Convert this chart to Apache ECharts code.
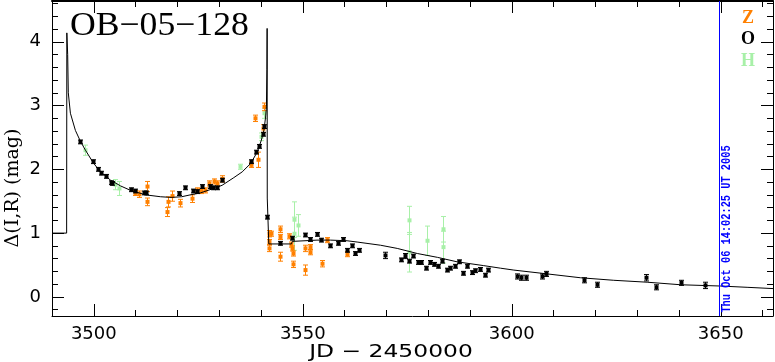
<!DOCTYPE html>
<html><head><meta charset="utf-8">
<script src="https://cdn.jsdelivr.net/npm/echarts@6/dist/echarts.min.js"></script>
<style>html,body{margin:0;padding:0;background:#fff}#c{width:775px;height:362px}</style>
</head><body><div id="c"></div>
<script>
// ---- tick values ----
const xMajorTicks = [3500, 3550, 3600, 3650];
const xMinorTicks = [3490,3500,3510,3520,3530,3540,3550,3560,3570,3580,3590,3600,3610,3620,3630,3640,3650,3660];
const yMajorTicks = [0, 1, 2, 3, 4];
const yMinorTicks = [-0.2,0,0.2,0.4,0.6,0.8,1,1.2,1.4,1.6,1.8,2,2.2,2.4,2.6,2.8,3,3.2,3.4,3.6,3.8,4,4.2,4.4,4.6];

// ---- model curve ----
const modelX = [3490,3493.5,3493.55,3493.75,3493.9,3494.4,3495.6,3496.8,3498.0,3499.9,3501.6,3504.0,3506.4,3508.8,3512.4,3516.0,3518.5,3521.0,3523.1,3525.5,3529.1,3530.7,3533.5,3535.5,3537.5,3539.1,3540.1,3540.7,3541.1,3541.3,3541.42,3541.47,3541.5,3541.85,3541.87,3547.3,3547.5,3553.4,3556.6,3560.6,3563.0,3568.6,3572.6,3577.4,3582.2,3586.9,3593.3,3597.3,3600.5,3608.5,3616.4,3624.4,3632.4,3640.4,3649.9,3656.3,3662.5];
const modelY = [1.0,1.0,4.14,3.8,3.2,2.88,2.61,2.44,2.30,2.10,1.96,1.83,1.74,1.67,1.60,1.57,1.56,1.57,1.60,1.63,1.71,1.75,1.87,1.96,2.09,2.27,2.46,2.61,2.82,2.98,3.56,4.21,1.55,1.55,0.83,0.83,0.87,0.89,0.89,0.88,0.86,0.81,0.76,0.68,0.62,0.55,0.49,0.45,0.42,0.36,0.30,0.26,0.23,0.19,0.17,0.15,0.13];

// ---- Z (orange) ----
const zX = [3509.8,3510.9,3512.8,3512.8,3517.7,3517.6,3518.8,3520.7,3523.5,3524.7,3525.7,3526.7,3527.5,3528.7,3529.5,3530.6,3537.7,3539.4,3538.5,3540.4,3540.7,
            3541.9,3541.9,3541.9,3542.5,3544.6,3544.6,3544.6,3546.7,3547.1,3547.5,3547.6,3547.6,3550.6,3550.6,3551.7,3551.7,3554.6,3555.7,3560.6];
const zY = [1.63,1.61,1.73,1.49,1.49,1.33,1.58,1.47,1.54,1.67,1.66,1.67,1.78,1.81,1.78,1.85,2.07,2.15,2.80,2.64,2.98,
            0.99,0.86,0.76,0.99,1.06,0.94,0.63,0.95,0.82,0.76,0.68,0.51,0.76,0.42,0.78,0.70,0.52,0.89,0.67];
const zErr = [0.04,0.05,0.08,0.06,0.08,0.07,0.08,0.06,0.06,0.04,0.04,0.04,0.04,0.04,0.04,0.05,0.04,0.12,0.05,0.06,0.06,
              0.05,0.04,0.05,0.04,0.05,0.04,0.07,0.04,0.04,0.04,0.04,0.05,0.05,0.08,0.04,0.04,0.05,0.04,0.04];

// ---- O (black) ----
const oX = [3496.8,3499.8,3501.0,3501.8,3503.0,3504.0,3504.4,3508.8,3509.8,3512.0,3512.6,3520.5,3521.8,3523.8,3524.7,3525.9,3527.8,3528.6,3529.5,3530.6,3537.7,3538.7,3539.6,3540.4,3540.7,
            3541.5,3544.6,3547.5,3550.6,3551.7,3553.4,3554.4,3556.5,3558.5,3559.6,3560.6,3561.7,3562.6,3563.4,
            3569.6,3573.4,3574.4,3575.4,3576.4,3577.5,3578.4,3579.4,3580.4,3581.3,3582.4,3583.4,3584.4,3585.3,3586.4,3587.4,3588.4,3589.3,3590.4,3591.3,3592.3,3593.5,3594.4,
            3601.3,3602.2,3603.3,3607.3,3608.2,3617.4,3620.4,3632.2,3634.4,3640.4,3646.3];
const oY = [2.43,2.12,2.00,1.94,1.89,1.79,1.78,1.68,1.66,1.63,1.63,1.62,1.71,1.66,1.65,1.73,1.73,1.71,1.71,1.83,2.12,2.27,2.36,2.55,2.67,
            1.25,0.84,0.92,0.97,0.90,0.98,0.89,0.80,0.84,0.90,0.73,0.80,0.68,0.73,
            0.65,0.58,0.64,0.56,0.64,0.54,0.54,0.45,0.54,0.51,0.48,0.56,0.42,0.45,0.48,0.55,0.37,0.48,0.38,0.41,0.43,0.34,0.42,
            0.32,0.30,0.30,0.32,0.36,0.26,0.19,0.30,0.15,0.22,0.18];
const oErr = [0.03,0.03,0.03,0.03,0.03,0.03,0.03,0.03,0.03,0.03,0.03,0.03,0.03,0.03,0.03,0.03,0.03,0.03,0.03,0.03,0.03,0.03,0.03,0.03,0.03,
              0.03,0.03,0.03,0.03,0.03,0.03,0.03,0.03,0.03,0.03,0.03,0.03,0.03,0.03,
              0.05,0.03,0.04,0.03,0.03,0.03,0.03,0.03,0.03,0.03,0.03,0.03,0.03,0.03,0.03,0.03,0.03,0.03,0.03,0.03,0.03,0.03,0.03,
              0.04,0.04,0.04,0.04,0.04,0.04,0.04,0.05,0.04,0.04,0.05];

// ---- H (light green) ----
const hX = [3498.0,3505.0,3506.0,3534.9,3539.9,3540.7,3547.8,3547.8,3548.8,3575.5,3575.5,3579.8,3583.6,3583.6];
const hY = [2.30,1.76,1.70,2.04,2.51,2.88,1.21,0.99,1.12,1.20,0.70,0.88,1.06,0.78];
const hErr = [0.08,0.08,0.11,0.04,0.06,0.08,0.28,0.26,0.17,0.22,0.31,0.23,0.20,0.25];

const zip3 = (a,b,c) => a.map((v,i)=>[v,b[i],c[i]]);

function errItem(params, api){
  const x=api.value(0), y=api.value(1), e=api.value(2);
  const c=api.coord([x,y]), t=api.coord([x,y+e]), b=api.coord([x,y-e]);
  const col=api.visual('color');
  const cx=Math.round(c[0])+0.5;
  return {type:'group', children:[
    {type:'line', shape:{x1:cx,y1:t[1],x2:cx,y2:b[1]}, style:{stroke:col,lineWidth:1}},
    {type:'line', shape:{x1:cx-2.5,y1:t[1],x2:cx+2.5,y2:t[1]}, style:{stroke:col,lineWidth:1}},
    {type:'line', shape:{x1:cx-2.5,y1:b[1],x2:cx+2.5,y2:b[1]}, style:{stroke:col,lineWidth:1}},
    {type:'rect', shape:{x:cx-2,y:c[1]-2,width:4,height:4}, style:{fill:col}}
  ]};
}

const XMIN=3490, XMAX=3662.5, YMIN=-0.3, YMAX=4.64;
const blk='#000';
const plain = v => String(v);
function xAx(pos, ticks, len, labels, lw){
  return {type:'value', min:XMIN, max:XMAX, position:pos,
    axisLine:{show:lw>0, onZero:false, lineStyle:{color:blk,width:lw}},
    axisTick:{inside:true, length:len, customValues:ticks, lineStyle:{color:blk,width:1}},
    axisLabel:labels?{customValues:ticks, formatter:plain, fontFamily:'DejaVu Sans', fontSize:18, color:blk, margin:9}:{show:false},
    splitLine:{show:false}};
}
function yAx(pos, ticks, len, labels, lw){
  return {type:'value', min:YMIN, max:YMAX, position:pos,
    axisLine:{show:lw>0, onZero:false, lineStyle:{color:blk,width:lw}},
    axisTick:{inside:true, length:len, customValues:ticks, lineStyle:{color:blk,width:1}},
    axisLabel:labels?{customValues:ticks, formatter:plain, fontFamily:'DejaVu Sans', fontSize:18, color:blk, margin:11}:{show:false},
    splitLine:{show:false}};
}

const chart = echarts.init(document.getElementById('c'), null, {renderer:'canvas'});
chart.setOption({
  animation:false,
  backgroundColor:'#fff',
  grid:{left:52, right:2, top:1, bottom:46, show:false},
  xAxis:[xAx('bottom',xMajorTicks,12,true,1), xAx('bottom',xMinorTicks,6,false,0),
         xAx('top',xMajorTicks,12,false,2), xAx('top',xMinorTicks,6,false,0)],
  yAxis:[yAx('left',yMajorTicks,12,true,1), yAx('left',yMinorTicks,6,false,0),
         yAx('right',yMajorTicks,12,false,1), yAx('right',yMinorTicks,6,false,0)],
  series:[
    {type:'custom', name:'H', renderItem:errItem, itemStyle:{color:'#a8f0a8'}, encode:{x:0,y:1}, data:zip3(hX,hY,hErr), z:2},
    {type:'custom', name:'Z', renderItem:errItem, itemStyle:{color:'#ff8000'}, encode:{x:0,y:1}, data:zip3(zX,zY,zErr), z:3},
    {type:'custom', name:'O', renderItem:errItem, itemStyle:{color:'#000'}, encode:{x:0,y:1}, data:zip3(oX,oY,oErr), z:4},
    {type:'line', name:'model', data:modelX.map((x,i)=>[x,modelY[i]]), showSymbol:false, symbol:'none',
     lineStyle:{color:'#000', width:1}, z:5}
  ],
  graphic:[
    {type:'text', x:70, y:26, scaleX:1.08, style:{text:'OB\u221205\u2212128', font:'33px "Liberation Serif"', fill:'#000', textVerticalAlign:'middle'}},
    {type:'text', x:748, y:18, style:{text:'Z', font:'bold 18px "Liberation Serif"', fill:'#ff8000', textAlign:'center', textVerticalAlign:'middle'}},
    {type:'text', x:748, y:39, style:{text:'O', font:'bold 18px "Liberation Serif"', fill:'#000', textAlign:'center', textVerticalAlign:'middle'}},
    {type:'text', x:748, y:61, style:{text:'H', font:'bold 18px "Liberation Serif"', fill:'#a8f0a8', textAlign:'center', textVerticalAlign:'middle'}},
    {type:'line', shape:{x1:719.5,y1:1,x2:719.5,y2:316}, style:{stroke:'#0000ff', lineWidth:1}, z:10},
    {type:'text', x:727, y:229, rotation:Math.PI/2, scaleX:0.86, style:{text:'Thu Oct 06 14:02:25 UT 2005', font:'bold 12px "Liberation Mono"', fill:'#0000ff', textAlign:'center', textVerticalAlign:'middle'}, z:10},
    {type:'text', x:391, y:352, scaleX:1.3, style:{text:'JD \u2212 2450000', font:'18px "DejaVu Sans"', fill:'#000', textAlign:'center', textVerticalAlign:'middle'}},
    {type:'text', x:13, y:188, rotation:Math.PI/2, style:{text:'\u0394(I,R) (mag)', font:'19px "DejaVu Serif"', fill:'#000', textAlign:'center', textVerticalAlign:'middle'}}
  ]
});
</script></body></html>
